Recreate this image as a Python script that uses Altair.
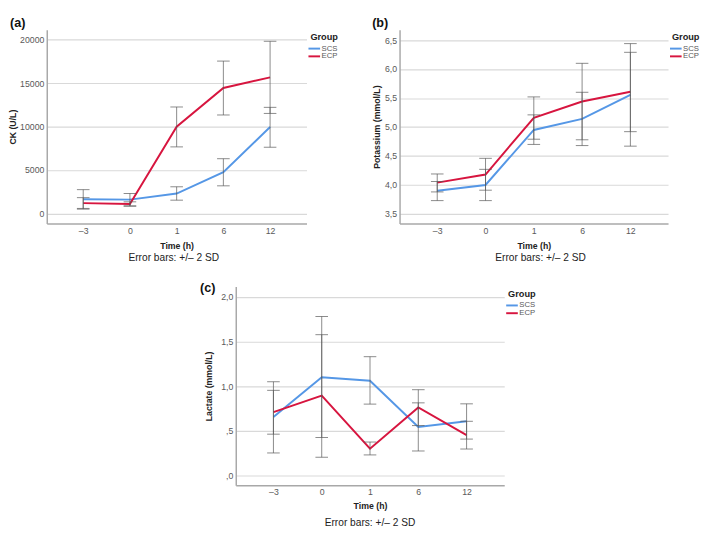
import altair as alt
import pandas as pd

times = ["–3", "0", "1", "6", "12"]
groups = ["SCS", "ECP"]
colors = ["#5597e6", "#d7153f"]

# Panel (a) CK (U/L)
ck_scs_mean = [1650, 1600, 2300, 4770, 9950]
ck_scs_lo = [590, 880, 1540, 3190, 7630]
ck_scs_hi = [2750, 2310, 3080, 6310, 12220]
ck_ecp_mean = [1200, 1100, 10000, 14450, 15670]
ck_ecp_lo = [510, 850, 7670, 11340, 11520]
ck_ecp_hi = [1830, 1350, 12260, 17540, 19820]

# Panel (b) Potassium (mmol/L)
k_scs_mean = [3.90, 4.00, 4.95, 5.14, 5.555]
k_scs_lo = [3.73, 3.73, 4.70, 4.68, 4.67]
k_scs_hi = [4.06, 4.27, 5.21, 5.60, 6.44]
k_ecp_mean = [4.04, 4.18, 5.16, 5.44, 5.61]
k_ecp_lo = [3.88, 3.91, 4.79, 4.78, 4.92]
k_ecp_hi = [4.19, 4.46, 5.52, 6.10, 6.29]

# Panel (c) Lactate (mmol/L)
lac_scs_mean = [0.656, 1.10, 1.061, 0.545, 0.608]
lac_scs_lo = [0.254, 0.427, 0.80, 0.276, 0.409]
lac_scs_hi = [1.05, 1.779, 1.33, 0.814, 0.803]
lac_ecp_mean = [0.711, 0.895, 0.302, 0.762, 0.453]
lac_ecp_lo = [0.464, 0.206, 0.232, 0.56, 0.298]
lac_ecp_hi = [0.954, 1.576, 0.376, 0.961, 0.608]

error_note = "Error bars: +/– 2 SD"


def make_df(sm, slo, shi, em, elo, ehi):
    rows = []
    for i, t in enumerate(times):
        rows.append({"time": t, "group": "SCS", "mean": sm[i], "lo": slo[i], "hi": shi[i]})
    for i, t in enumerate(times):
        rows.append({"time": t, "group": "ECP", "mean": em[i], "lo": elo[i], "hi": ehi[i]})
    return pd.DataFrame(rows)


def panel(df, label, label_dx, label_dy, ytitle, domain, tick_vals, label_expr,
          width, height, ytitle_pad, xtitle_pad, note_dy, note_dx):
    xaxis = alt.Axis(title="Time (h)", labelAngle=0, ticks=False, grid=False,
                     domainColor="#a8a8a8", domainWidth=1.5,
                     labelFontSize=9, labelColor="#595959", labelPadding=3,
                     titleFontSize=9, titleFontWeight="bold", titleColor="#222222",
                     titlePadding=xtitle_pad)
    xscale = alt.Scale(type="point", padding=0.78)
    yscale = alt.Scale(domain=domain, nice=False, zero=False)
    yaxis = alt.Axis(title=ytitle, values=tick_vals, labelExpr=label_expr,
                     labelOverlap=False, tickCount=len(tick_vals),
                     grid=True, gridColor="#d9d9d9", gridWidth=1.2, ticks=False,
                     domainColor="#a8a8a8", domainWidth=1.5,
                     labelFontSize=9, labelColor="#595959", labelPadding=3,
                     titleFontSize=9, titleFontWeight="bold", titleColor="#222222",
                     titlePadding=ytitle_pad)

    def X():
        return alt.X("time:N", sort=times, scale=xscale, axis=xaxis)

    def Y(field):
        return alt.Y(field, scale=yscale, axis=yaxis)

    base = alt.Chart(df)
    lines = base.mark_line(strokeWidth=2).encode(
        x=X(),
        y=Y("mean:Q"),
        color=alt.Color("group:N", sort=groups,
                        scale=alt.Scale(domain=groups, range=colors),
                        legend=alt.Legend(title="Group", orient="none",
                                          legendX=width + 4, legendY=3,
                                          padding=0,
                                          titleFontSize=9.5, titleFontWeight="bold",
                                          titleColor="#222222", titlePadding=3,
                                          labelFontSize=8, labelColor="#595959",
                                          labelOffset=3.5,
                                          symbolType="M-2,0H2", symbolSize=36,
                                          symbolStrokeWidth=2, rowPadding=0)),
        detail="group:N",
    )
    rules = base.mark_rule(color="#555555", opacity=0.7, strokeWidth=1).encode(
        x=X(), y=Y("lo:Q"), y2="hi:Q")
    cap_lo = base.mark_tick(color="#555555", opacity=0.7, size=13, thickness=1).encode(
        x=X(), y=Y("lo:Q"))
    cap_hi = base.mark_tick(color="#555555", opacity=0.7, size=13, thickness=1).encode(
        x=X(), y=Y("hi:Q"))
    lab = alt.Chart(pd.DataFrame({"t": [label]})).mark_text(
        fontSize=13, fontWeight="bold", color="#111111", align="center", baseline="middle"
    ).encode(x=alt.value(label_dx), y=alt.value(label_dy), text="t:N")
    note = alt.Chart(pd.DataFrame({"t": [error_note]})).mark_text(
        fontSize=10.5, color="#222222", align="center", baseline="middle"
    ).encode(x=alt.value(width / 2 + note_dx), y=alt.value(height + note_dy), text="t:N")
    return alt.layer(lines, rules, cap_lo, cap_hi, lab, note).properties(
        width=width, height=height)


df_a = make_df(ck_scs_mean, ck_scs_lo, ck_scs_hi, ck_ecp_mean, ck_ecp_lo, ck_ecp_hi)
df_b = make_df(k_scs_mean, k_scs_lo, k_scs_hi, k_ecp_mean, k_ecp_lo, k_ecp_hi)
df_c = make_df(lac_scs_mean, lac_scs_lo, lac_scs_hi, lac_ecp_mean, lac_ecp_lo, lac_ecp_hi)

H = 200
pa = panel(df_a, "(a)", -30, -7, "CK (U/L)", [-1150, 21150],
           [0, 5000, 10000, 15000, 20000], "format(datum.value, 'd')",
           268, H, 2, 7, 36, -3)
pb = panel(df_b, "(b)", -20, -7, "Potassium (mmol/L)", [3.334, 6.68],
           [3.5, 4.0, 4.5, 5.0, 5.5, 6.0, 6.5],
           "replace(format(datum.value, '.1f'), '.', ',')",
           277, H, 3, 7, 36, 7)
pc = panel(df_c, "(c)", -29, 2, "Lactate (mmol/L)", [-0.107, 2.114],
           [0, 0.5, 1.0, 1.5, 2.0],
           "datum.value < 1 ? replace(format(datum.value, '.1f'), '0.', ',') : replace(format(datum.value, '.1f'), '.', ',')",
           277, 205, 7, 5, 39, 0)

spacer = alt.Chart(pd.DataFrame({"v": [0]})).mark_point(opacity=0).properties(width=157, height=10)

top = alt.hconcat(pa, pb, spacing=33).resolve_scale(
    x="independent", y="independent", color="independent").resolve_legend(color="independent")
bottom = alt.hconcat(spacer, pc, spacing=0).resolve_scale(
    x="independent", y="independent", color="independent").resolve_legend(color="independent")

chart = alt.vconcat(top, bottom, spacing=18).resolve_scale(
    x="independent", y="independent", color="independent").resolve_legend(
    color="independent").properties(padding=0).configure(
    font="Liberation Sans").configure_view(stroke="transparent")

chart.save("out.html", embed_options={"renderer": "svg", "actions": False})
